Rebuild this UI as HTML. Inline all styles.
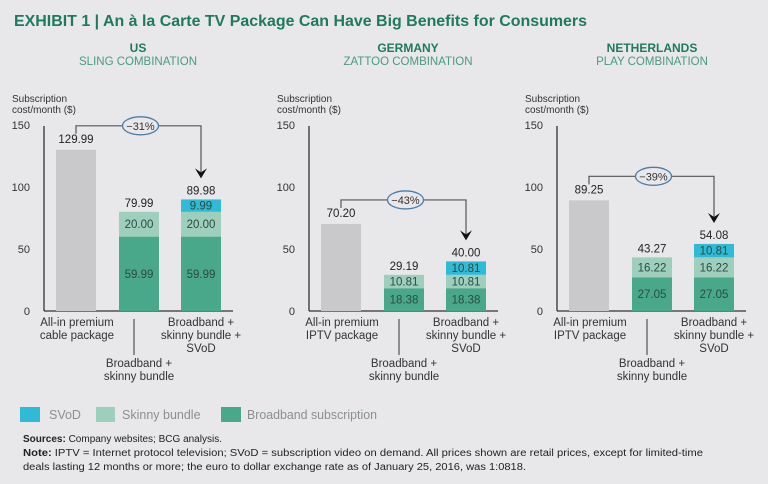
<!DOCTYPE html>
<html><head><meta charset="utf-8"><style>
html,body{margin:0;padding:0;background:#e8e8ea;}
svg{display:block;font-family:"Liberation Sans",sans-serif;}
</style></head><body>
<svg id="chart" width="768" height="484" viewBox="0 0 768 484" xmlns="http://www.w3.org/2000/svg">
<rect width="768" height="484" fill="#e8e8ea"/>
<text x="14" y="26" font-size="16" font-weight="bold" fill="#1e7a5e" textLength="573" lengthAdjust="spacingAndGlyphs">EXHIBIT 1 | An à la Carte TV Package Can Have Big Benefits for Consumers</text>
<g id="panels"></g>
<g>
<rect x="20" y="407" width="20" height="15" fill="#2fbad6"/>
<text x="49" y="419" font-size="12.5" fill="#8a8f93">SVoD</text>
<rect x="96" y="407" width="19" height="15" fill="#9ecfbd"/>
<text x="122" y="419" font-size="12.5" fill="#8a8f93">Skinny bundle</text>
<rect x="221" y="407" width="20" height="15" fill="#4aa88a"/>
<text x="247" y="419" font-size="12.5" fill="#8a8f93" textLength="130" lengthAdjust="spacingAndGlyphs">Broadband subscription</text>
</g>
<g font-size="10" fill="#222">
<text x="23" y="442"><tspan font-weight="bold">Sources:</tspan> Company websites; BCG analysis.</text>
<text x="23" y="456" textLength="680" lengthAdjust="spacingAndGlyphs"><tspan font-weight="bold">Note:</tspan> IPTV = Internet protocol television; SVoD = subscription video on demand. All prices shown are retail prices, except for limited-time</text>
<text x="23" y="470" textLength="503" lengthAdjust="spacingAndGlyphs">deals lasting 12 months or more; the euro to dollar exchange rate as of January 25, 2016, was 1:0818.</text>
</g>
</svg>
<script>
const countries = ["US", "GERMANY", "NETHERLANDS"];
const combos = ["SLING COMBINATION", "ZATTOO COMBINATION", "PLAY COMBINATION"];
const premiumValues = [129.99, 70.20, 89.25];
const broadbandValues = [59.99, 18.38, 27.05];
const skinnyValues = [20.00, 10.81, 16.22];
const svodValues = [9.99, 10.81, 10.81];
const skinnyTotals = ["79.99", "29.19", "43.27"];
const svodTotals = ["89.98", "40.00", "54.08"];
const premiumLabels = ["129.99", "70.20", "89.25"];
const savings = ["−31%", "−43%", "−39%"];
const premiumNames = [["All-in premium","cable package"],["All-in premium","IPTV package"],["All-in premium","IPTV package"]];
const yTicks = [0, 50, 100, 150];

const NS = "http://www.w3.org/2000/svg";
const root = document.getElementById("panels");
const axisX = [44, 309, 557];
const titleX = [138, 408, 652];
const zeroY = 311, pxPerUnit = 1.24;
function y(v){ return zeroY - v * pxPerUnit; }
function el(tag, attrs, parent, text){
  const e = document.createElementNS(NS, tag);
  for (const k in attrs) e.setAttribute(k, attrs[k]);
  if (text !== undefined) e.textContent = text;
  (parent || root).appendChild(e);
  return e;
}
const C = {bb:"#4aa88a", sk:"#9ecfbd", sv:"#2fbad6", gray:"#c9c9cb", txt:"#2d3b37", val:"#2b4a42"};

countries.forEach((c, i) => {
  const ax = axisX[i];
  const g = el("g", {});
  
  
  let t = el("text", {x:titleX[i], y:52, "text-anchor":"middle", "font-size":12, "font-weight":"bold", fill:"#1e7a5e"}, g, c);
  
  
  t = el("text", {x:titleX[i], y:65, "text-anchor":"middle", "font-size":11.5, fill:"#4a9a80"}, g, combos[i]);
  
  
  t = el("text", {x:ax-32, y:102, "font-size":10, fill:"#333"}, g, "Subscription");
  
  
  t = el("text", {x:ax-32, y:113, "font-size":10, fill:"#333"}, g, "cost/month ($)");
  
  
  yTicks.forEach(v => {
    const tk = el("text", {x:ax-14, y:y(v)+4, "text-anchor":"end", "font-size":11, fill:"#333"}, g, String(v));
    
    
  });
  let ln = el("line", {x1:ax, y1:y(150)+1, x2:ax, y2:zeroY, stroke:"#333", "stroke-width":1.3}, g);
  
  
  ln = el("line", {x1:ax, y1:zeroY, x2:ax+189, y2:zeroY, stroke:"#333", "stroke-width":1.3}, g);
  
  

  const bx = [ax+12, ax+75, ax+137], bw = 40;
  let r = el("rect", {x:bx[0], y:y(premiumValues[i]), width:bw, height:premiumValues[i]*pxPerUnit, fill:C.gray}, g);
  
  
  t = el("text", {x:bx[0]+bw/2, y:y(premiumValues[i])-7, "text-anchor":"middle", "font-size":11.5, fill:"#222"}, g, premiumLabels[i]);
  
  
  [1,2].forEach(k => {
    const x0 = bx[k];
    const segs = [[broadbandValues[i], C.bb, "broadband"], [skinnyValues[i], C.sk, "skinny"]];
    if (k === 2) segs.push([svodValues[i], C.sv, "svod"]);
    let base = 0;
    segs.forEach(s => {
      const rr = el("rect", {x:x0, y:y(base+s[0]), width:bw, height:s[0]*pxPerUnit, fill:s[1]}, g);
      
      
      const tv = el("text", {x:x0+bw/2, y:y(base+s[0]/2)+4, "text-anchor":"middle", "font-size":11.5, fill:C.val}, g, s[0].toFixed(2));
      
      
      base += s[0];
    });
    const tot = el("text", {x:x0+bw/2, y:y(base)-5, "text-anchor":"middle", "font-size":11.5, fill:"#222"}, g, k===1 ? skinnyTotals[i] : svodTotals[i]);
    
    
  });
  const cl = el("g", {"font-size":11.5, fill:"#333", "text-anchor":"middle"}, g);
  
  
  premiumNames[i].forEach((s, j) => {
    const a = el("text", {x:bx[0]+bw/2+1, y:326+j*13}, cl, s);
    
    
  });
  ["Broadband +","skinny bundle +","SVoD"].forEach((s, j) => {
    const a = el("text", {x:bx[2]+bw/2, y:326+j*13}, cl, s);
    
    
  });
  ["Broadband +","skinny bundle"].forEach((s, j) => {
    const a = el("text", {x:bx[1]+bw/2, y:367+j*13}, cl, s);
    
    
  });
  ln = el("line", {x1:bx[1]+bw/2-5, y1:319, x2:bx[1]+bw/2-5, y2:355, stroke:"#333", "stroke-width":1}, g);
  
  
  const topY = y(premiumValues[i]) - 24;
  const lx = bx[0]+bw/2, rx = bx[2]+bw/2;
  const arrowTip = y(broadbandValues[i]+skinnyValues[i]+svodValues[i]) - 21;
  const p = el("path", {d:`M${lx},${topY+8} V${topY} H${rx} V${arrowTip-6}`, fill:"none", stroke:"#555", "stroke-width":1.2}, g);
  
  
  const ah = el("path", {d:`M${rx-6},${arrowTip-10} L${rx},${arrowTip} L${rx+6},${arrowTip-10} L${rx},${arrowTip-6} Z`, fill:"#111"}, g);
  
  
  const cx = (lx + rx) / 2 + 2;
  const ell = el("ellipse", {cx:cx, cy:topY, rx:18, ry:9, fill:"#e8e8ea", stroke:"#4a7ea8", "stroke-width":1.3}, g);
  
  
  t = el("text", {x:cx, y:topY+4, "text-anchor":"middle", "font-size":11, fill:"#333"}, g, savings[i]);
  
  
});
</script>
</body></html>
